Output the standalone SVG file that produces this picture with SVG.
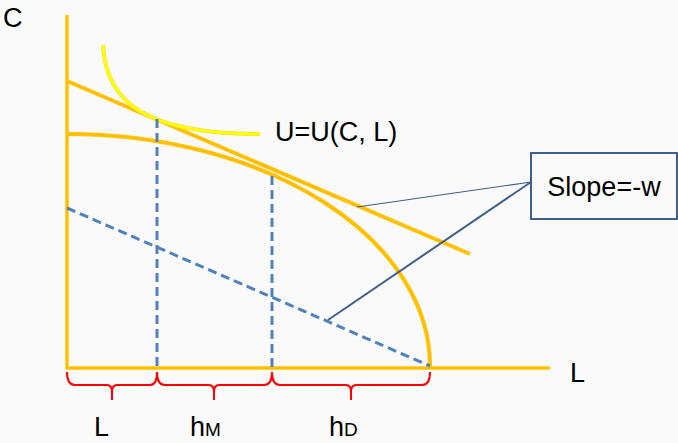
<svg xmlns="http://www.w3.org/2000/svg" width="678" height="443" viewBox="0 0 678 443">
<style>
text{font-family:"Liberation Sans",Arial,sans-serif;fill:#000;font-size:27px}
.gold{stroke:#ffc000;fill:none;stroke-width:3.5}
.thick{stroke-width:4}
.dash{stroke:#4f81bd;fill:none;stroke-width:3;stroke-dasharray:9 5}
.brace{stroke:#ff0000;fill:none;stroke-width:2}
.lead{stroke:#3e5f8a;fill:none}
</style>
<rect width="678" height="443" fill="#fafafa"/>
<g id="axes">
<line class="gold" x1="67" y1="15" x2="67" y2="369"/>
<line class="gold" x1="66" y1="368" x2="550" y2="368"/>
<text x="3" y="27">C</text>
<text x="570" y="382">L</text>
</g>
<g id="ppf">
<path class="gold thick" d="M67,134 A363,232 0 0 1 430,366"/>
</g>
<g id="budget">
<line class="gold thick" x1="67" y1="81" x2="470" y2="254"/>
</g>
<g id="indifference">
<path d="M103,45 C106,105 150,134 260,134" fill="none" stroke="#e6dc40" stroke-width="4"/>
<path d="M103,45 C106,105 150,134 260,134" fill="none" stroke="#ffff00" stroke-width="3"/>
<text x="275" y="141">U=U(C, L)</text>
</g>
<g id="dashed">
<line class="dash" x1="67" y1="208" x2="430" y2="366"/>
<line class="dash" x1="157" y1="119" x2="157" y2="367"/>
<line class="dash" x1="272" y1="176" x2="272" y2="367"/>
</g>
<g id="connectors">
<line class="lead" stroke-width="1.2" x1="531" y1="182" x2="357" y2="207"/>
<line class="lead" stroke-width="2" x1="531" y1="182" x2="328" y2="320"/>
</g>
<g id="slope-box">
<rect x="531" y="153" width="146" height="66" fill="#fafafa" stroke="#3e5f8a" stroke-width="2"/>
<text x="604" y="196" text-anchor="middle">Slope=-w</text>
</g>
<g id="braces">
<path class="brace" d="M67,372 Q67,385 75,385 L107,385 Q112,385 112,392 L112,400 M112,392 Q112,385 117,385 L150,385 Q157,385 157,372"/>
<path class="brace" d="M157,372 Q157,385 165,385 L209,385 Q214,385 214,392 L214,400 M214,392 Q214,385 219,385 L264,385 Q272,385 272,372"/>
<path class="brace" d="M272,372 Q272,385 280,385 L346,385 Q351,385 351,392 L351,400 M351,392 Q351,385 356,385 L422,385 Q430,385 430,372"/>
</g>
<g id="labels">
<text x="94" y="436">L</text>
<text x="190" y="436">h<tspan font-size="19">M</tspan></text>
<text x="329" y="436">h<tspan font-size="19">D</tspan></text>
</g>
</svg>
